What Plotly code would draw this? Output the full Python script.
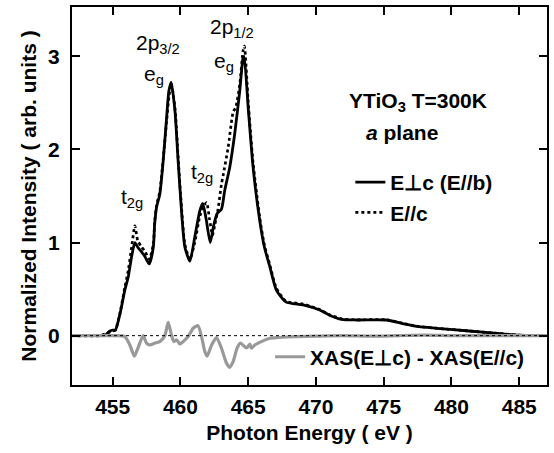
import plotly.graph_objects as go

# ---- data ----
energy_perp = [452.0, 453.0, 454.0, 454.5, 454.8, 455.0, 455.2, 455.55, 455.9, 456.15, 456.4, 456.64,
               456.85, 457.13, 457.38, 457.7, 458.0, 458.1, 458.24, 458.48, 458.73, 458.98, 459.15,
               459.32, 459.6, 459.83, 460.08, 460.33, 460.7, 461.06, 461.43, 461.65, 461.9, 462.2,
               462.45, 462.7, 463.03, 463.27, 463.64, 464.0, 464.38, 464.62, 464.7, 465.0, 465.36,
               465.85, 466.2, 466.6, 467.08, 467.8, 469.05, 470.28, 471.0, 471.9, 473.0, 475.2,
               476.4, 477.6, 478.9, 481.3, 483.8, 485.0, 487.0]
intensity_perp = [0.0, 0.0, 0.0, 0.01, 0.05, 0.06, 0.06, 0.24, 0.49, 0.63, 0.85, 1.0,
                  0.95, 0.90, 0.85, 0.77, 0.95, 1.2, 1.38, 1.52, 1.88, 2.34, 2.63,
                  2.72, 2.41, 1.88, 1.34, 0.95, 0.80, 1.06, 1.34, 1.42, 1.25, 1.0,
                  1.18, 1.31, 1.36, 1.56, 1.81, 2.16, 2.63, 2.98, 3.0, 2.45, 1.81,
                  1.24, 0.95, 0.74, 0.49, 0.36, 0.33, 0.275, 0.22, 0.175, 0.168, 0.168,
                  0.13, 0.096, 0.079, 0.05, 0.018, 0.005, 0.0]

energy_par = [452.0, 454.0, 454.8, 455.0, 455.2, 455.55, 455.9, 456.15, 456.4, 456.64, 456.85,
              457.1, 457.4, 457.7, 458.0, 458.1, 458.24, 458.48, 458.73, 458.98, 459.15, 459.32,
              459.6, 459.83, 460.08, 460.33, 460.7, 461.06, 461.43, 461.68, 461.93, 462.15,
              462.37, 462.55, 462.78, 463.03, 463.15, 463.52, 463.89, 464.08, 464.38, 464.62,
              464.72, 465.0, 465.36, 465.85, 466.2, 466.6, 467.08, 467.8, 469.05, 470.28, 471.0,
              471.9, 473.0, 475.2, 476.4, 477.6, 478.9, 481.3, 483.8, 485.0, 487.0]
intensity_par = [0.0, 0.0, 0.04, 0.05, 0.06, 0.25, 0.52, 0.70, 0.95, 1.18, 1.02,
                 0.96, 0.90, 0.82, 0.98, 1.22, 1.40, 1.55, 1.90, 2.30, 2.56, 2.71,
                 2.44, 1.92, 1.38, 0.98, 0.82, 1.0, 1.28, 1.38, 1.43, 1.25,
                 1.08, 1.2, 1.36, 1.63, 1.72, 2.02, 2.40, 2.45, 2.70, 3.06,
                 3.11, 2.52, 1.86, 1.27, 0.97, 0.76, 0.51, 0.37, 0.34, 0.28, 0.225,
                 0.18, 0.17, 0.17, 0.133, 0.098, 0.08, 0.05, 0.02, 0.005, 0.0]

energy_diff = [452.0, 453.7, 455.17, 455.9, 456.27, 456.6, 456.9, 457.25, 457.5, 457.75, 458.12,
               458.48, 458.85, 459.1, 459.35, 459.52, 459.72, 459.96, 460.2, 460.57, 460.94,
               461.3, 461.56, 461.8, 461.97, 462.3, 462.66, 463.03, 463.4, 463.64, 463.89,
               464.18, 464.43, 464.75, 464.92, 465.12, 465.24, 465.49, 465.97, 466.6, 467.2,
               468.5, 470.0, 472.0, 474.0, 476.0, 478.0, 480.0, 482.0, 484.0, 487.0]
intensity_diff = [0.0, 0.0, 0.0, -0.01, -0.1, -0.22, -0.12, 0.0, -0.08, -0.1, -0.08,
                  -0.064, 0.0, 0.143, 0.0, -0.064, -0.046, -0.09, -0.064, -0.01, 0.08,
                  0.107, -0.01, -0.17, -0.22, -0.1, -0.02, -0.135, -0.295, -0.34, -0.28,
                  -0.135, -0.08, -0.12, -0.13, -0.09, -0.135, -0.1, -0.064, -0.028, -0.02,
                  -0.01, -0.005, 0.0, -0.005, 0.0, 0.005, 0.0, 0.0, 0.0, 0.0]

x_ticks = [455, 460, 465, 470, 475, 480, 485]
y_ticks = [0, 1, 2, 3]

FONT = "Liberation Sans, Arial, sans-serif"

fig = go.Figure()
fig.add_trace(go.Scatter(x=energy_perp, y=intensity_perp, mode="lines",
                         name="E\u22a5c (E//b)", legend="legend",
                         line=dict(color="black", width=2.8, shape="spline", smoothing=0.6)))
fig.add_trace(go.Scatter(x=energy_par, y=intensity_par, mode="lines",
                         name="E//c", legend="legend",
                         line=dict(color="black", width=2.7, dash="dot", shape="spline", smoothing=0.6)))
fig.add_trace(go.Scatter(x=energy_diff, y=intensity_diff, mode="lines",
                         name="XAS(E\u22a5c) - XAS(E//c)", legend="legend2",
                         line=dict(color="#999999", width=3.2, shape="spline", smoothing=0.6)))

fig.add_shape(type="line", xref="paper", x0=0, x1=1, yref="y", y0=0, y1=0,
              line=dict(color="black", width=1, dash="dot"), layer="above")

ann_font = dict(family=FONT, size=21, color="black")
labels = [
    (458.35, 3.13, "2p<sub>3/2</sub>"),
    (458.05, 2.80, "e<sub>g</sub>"),
    (463.8, 3.30, "2p<sub>1/2</sub>"),
    (463.2, 2.94, "e<sub>g</sub>"),
    (456.45, 1.48, "t<sub>2g</sub>"),
    (461.6, 1.75, "t<sub>2g</sub>"),
]
for x, y, t in labels:
    fig.add_annotation(x=x, y=y, text=t, showarrow=False, font=ann_font,
                       xanchor="center", yanchor="middle")

bold_font = dict(family=FONT, size=21, color="black", weight="bold")
fig.add_annotation(xref="paper", yref="paper", x=0.729, y=0.75, text="YTiO<sub>3</sub> T=300K",
                   showarrow=False, font=bold_font, xanchor="center", yanchor="middle")
fig.add_annotation(xref="paper", yref="paper", x=0.695, y=0.668, text="<i>a</i> plane",
                   showarrow=False, font=bold_font, xanchor="center", yanchor="middle")

fig.update_layout(
    width=554, height=453,
    margin=dict(l=72, r=6, t=5, b=68),
    paper_bgcolor="white", plot_bgcolor="white",
    font=dict(family=FONT, color="black"),
    legend=dict(x=0.586, y=0.59, xanchor="left", yanchor="top",
                bgcolor="rgba(0,0,0,0)", font=bold_font, tracegroupgap=0),
    legend2=dict(x=0.417, y=0.128, xanchor="left", yanchor="top",
                 bgcolor="rgba(0,0,0,0)", font=bold_font),
    xaxis=dict(range=[452, 487.05], tickvals=x_ticks, ticks="inside", ticklen=8, tickwidth=2,
               tickcolor="black", showline=True, linewidth=2, linecolor="black", mirror="ticks",
               showgrid=False, zeroline=False, tickfont=bold_font, ticklabelstandoff=2,
               title=dict(text="Photon Energy ( eV )", font=bold_font, standoff=8)),
    yaxis=dict(range=[-0.53, 3.53], tickvals=y_ticks, ticks="inside", ticklen=8, tickwidth=2,
               tickcolor="black", showline=True, linewidth=2, linecolor="black", mirror="ticks",
               showgrid=False, zeroline=False, tickfont=bold_font, ticklabelstandoff=6,
               title=dict(text="Normalized Intensity ( arb. units )", font=bold_font, standoff=6)),
)

fig.write_html("out.html", post_script="document.body.style.margin='0px';",
               config={"displayModeBar": False})
